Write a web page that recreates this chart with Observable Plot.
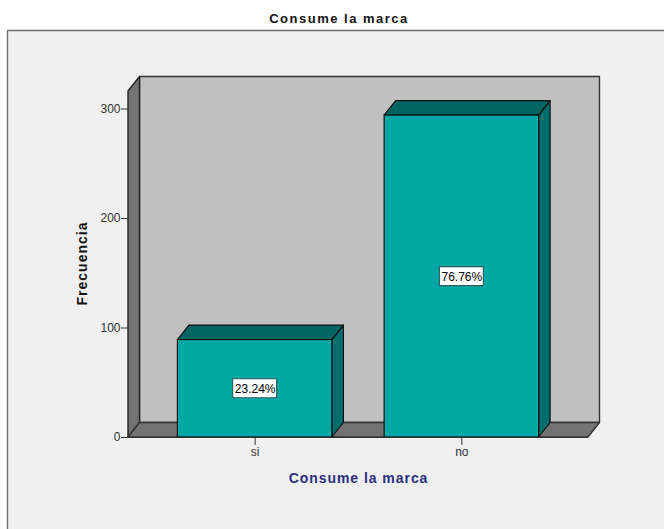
<!DOCTYPE html>
<html>
<head>
<meta charset="utf-8">
<script src="https://cdn.jsdelivr.net/npm/d3@7"></script>
<script src="https://cdn.jsdelivr.net/npm/@observablehq/plot@0.6"></script>
<style>
html,body{margin:0;padding:0;background:#fff;overflow:hidden}
svg{display:block}
</style>
</head>
<body>
<div id="chart"></div>
<script>
const categories = ["si", "no"];
const frequencies = [89, 294];
const percentLabels = ["23.24%", "76.76%"];
const yTicks = [0, 100, 200, 300];
const chartTitle = "Consume la marca";
const xLabel = "Consume la marca";
const yLabel = "Frecuencia";

const rows = categories.map((c, i) => ({c, f: frequencies[i], p: percentLabels[i]}));
const font = "'Liberation Sans', Arial, sans-serif";
const depthX = 11.5, depthY = -14.5;
const wallTopValue = 316;   // front edge of the left wall, on the y scale
const stroke = "#111";
const NS = "http://www.w3.org/2000/svg";

function poly(parent, points, fill, sw = 1.2, col = stroke) {
  const p = document.createElementNS(NS, "polygon");
  p.setAttribute("points", points.map(d => d.join(",")).join(" "));
  p.setAttribute("fill", fill);
  p.setAttribute("stroke", col);
  p.setAttribute("stroke-width", sw);
  p.setAttribute("stroke-linejoin", "round");
  parent.appendChild(p);
}
function group() {
  return document.createElementNS(NS, "g");
}
function label(parent, str, transform, size, fill, spacing) {
  const t = document.createElementNS(NS, "text");
  t.textContent = str;
  t.setAttribute("transform", transform);
  t.setAttribute("text-anchor", "middle");
  t.setAttribute("font-family", font);
  t.setAttribute("font-weight", "bold");
  t.setAttribute("font-size", size);
  t.setAttribute("fill", fill);
  t.style.letterSpacing = spacing + "px";
  parent.appendChild(t);
}

// Frame, back wall, left wall and floor derived from the scales
const background = (index, {x, y}) => {
  const g = group();
  const [x0, x1] = x.range();
  const y0 = y(0), topY = y(wallTopValue);
  poly(g, [[7.5, 30.5], [680, 30.5], [680, 545], [7.5, 545]], "#f0f0f0", 1.4, "#6e6e6e");
  poly(g, [[x0 + depthX, topY + depthY], [x1 + depthX, topY + depthY], [x1 + depthX, y0 + depthY], [x0 + depthX, y0 + depthY]], "#c0c0c0", 1.4, "#333");
  poly(g, [[x0, y0], [x0 + depthX, y0 + depthY], [x0 + depthX, topY + depthY], [x0, topY]], "#737373", 1.4, "#222");
  poly(g, [[x0, y0], [x1, y0], [x1 + depthX, y0 + depthY], [x0 + depthX, y0 + depthY]], "#737373", 1.4, "#333");
  return g;
};

// Side and top faces of each bar, positioned through the scales
const barFaces = (index, {x, y}) => {
  const g = group();
  for (const r of rows) {
    const a = x(r.c), b = a + x.bandwidth(), t = y(r.f), z = y(0);
    poly(g, [[b, t], [b + depthX, t + depthY], [b + depthX, z + depthY], [b, z]], "#006e6c");
    poly(g, [[a, t], [a + depthX, t + depthY], [b + depthX, t + depthY], [b, t]], "#006462");
  }
  return g;
};

// White boxes behind the percentage labels
const labelBoxes = (index, {x, y}) => {
  const g = group();
  for (const r of rows) {
    const cx = x(r.c) + x.bandwidth() / 2, cy = y(r.f / 2);
    const hw = 22, hh = 9.5;
    poly(g, [[cx - hw, cy - hh], [cx + hw, cy - hh], [cx + hw, cy + hh], [cx - hw, cy + hh]], "#fff", 1.2, "#2f5f5f");
  }
  return g;
};

// Chart title and axis titles
const titles = () => {
  const g = group();
  label(g, chartTitle, "translate(339 22.5)", 13, "#111", 1.5);
  label(g, xLabel, "translate(358.5 482.5)", 14, "#2e2e80", 0.95);
  label(g, yLabel, "translate(87 263.5) rotate(-90)", 14, "#111", 1);
  return g;
};

const chart = Plot.plot({
  width: 664,
  height: 529,
  marginLeft: 128,
  marginRight: 76,
  marginTop: 108.5,
  marginBottom: 92,
  style: {background: "transparent", fontFamily: font, fontSize: "12px", overflow: "visible"},
  x: {type: "band", domain: categories, paddingInner: 0.2527, paddingOuter: 0.239, round: false, label: null},
  y: {domain: [0, 300], label: null},
  marks: [
    background,
    barFaces,
    Plot.barY(rows, {x: "c", y: "f", fill: "#00a8a5", stroke: stroke, strokeWidth: 1.2}),
    Plot.ruleY([0], {stroke: "#333", strokeWidth: 1.2}),
    labelBoxes,
    Plot.text(rows, {
      x: "c", y: d => d.f / 2, text: "p", dy: 0.5,
      fill: "#000", fontSize: 12, fontFamily: font
    }),
    Plot.axisY({
      ticks: yTicks, tickSize: 7, tickPadding: 1, label: null,
      stroke: "#333", fill: "#333", fontSize: 12, fontFamily: font
    }),
    Plot.axisX({
      tickSize: 8, tickPadding: 2, label: null,
      stroke: "#333", fill: "#333", fontSize: 12, fontFamily: font
    }),
    titles
  ]
});
document.getElementById("chart").appendChild(chart);
</script>
</body>
</html>
